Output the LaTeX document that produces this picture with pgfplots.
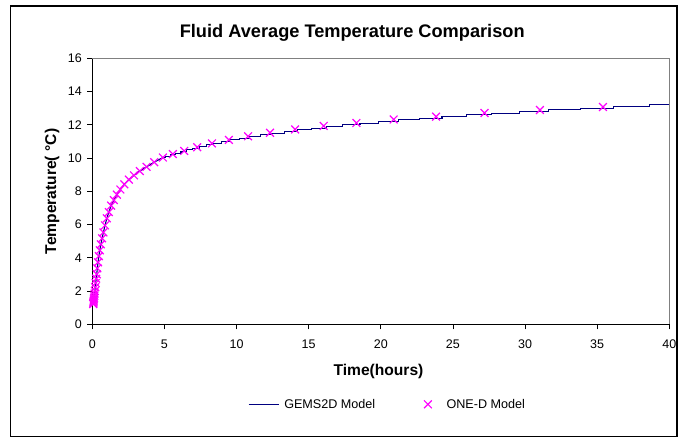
\documentclass[border=0pt]{standalone}
\usepackage{fontspec}
\setmainfont{Liberation Sans}
\usepackage{pgfplots}
\pgfplotsset{compat=1.18}
\definecolor{navyline}{RGB}{0,0,128}
\definecolor{mag}{RGB}{255,0,255}
\pgfplotsset{
  gemsimg/.style={legend image code/.code={\draw[##1] (0bp,0bp) -- (30bp,0bp);}},
  onedimg/.style={legend image code/.code={\draw[##1] plot coordinates {(6bp,0bp)}; \path (0bp,0bp) (19bp,0bp);}},
}
\begin{document}
\begin{tikzpicture}[x=1bp,y=1bp]
\begin{axis}[
  scale only axis, width=577bp, height=266bp,
  xmin=0,xmax=40,ymin=0,ymax=16,
  xtick={0,5,...,40}, ytick={0,2,...,16},
  axis x line*=bottom, axis y line*=left,
  axis line style={-, black, line width=0.9bp},
  tick align=outside, major tick length=5bp,
  tick style={black, line width=0.8bp},
  clip=false,
  /pgf/number format/assume math mode=true,
  tick label style={font=\fontsize{12.5bp}{14bp}\selectfont},
  xticklabel style={anchor=north, yshift=-7bp},
  yticklabel style={anchor=east, xshift=-2bp},
  title={Fluid Average Temperature Comparison},
  every axis title/.style={at={(axis description cs:0.4505,1.0789)}, anchor=base, font=\fontsize{18.2bp}{20bp}\selectfont\bfseries},
  xlabel={Time(hours)},
  xlabel style={at={(axis description cs:0.496,-0.1756)}, anchor=center, font=\fontsize{15.6bp}{17bp}\selectfont\bfseries},
  ylabel={Temperature( °C)},
  ylabel style={at={(axis description cs:-0.0698,0.499)}, anchor=center, font=\fontsize{15.6bp}{17bp}\selectfont\bfseries},
  legend columns=2,
  legend style={at={(axis description cs:0.2698,-0.3008)}, anchor=west, draw=none, fill=none, inner sep=0pt,
    font=\fontsize{12.6bp}{14bp}\selectfont, nodes={inner xsep=0pt, inner ysep=1bp},
    /tikz/every even column/.append style={column sep=46bp},
    /tikz/every odd column/.append style={column sep=5bp}},
  legend cell align=left,
]
\addplot[navyline, line width=1.1bp, forget plot] coordinates {
(0.063,1.22)(0.072,1.28)(0.082,1.35)(0.094,1.42)(0.107,1.50)(0.122,1.60)(0.139,1.72)(0.159,1.85)(0.181,2.00)(0.207,2.23)(0.236,2.48)(0.269,2.74)(0.307,3.01)(0.350,3.37)(0.399,3.73)(0.456,4.10)(0.520,4.45)(0.593,4.81)(0.677,5.17)(0.772,5.53)(0.881,5.95)(1.006,6.37)(1.147,6.75)(1.309,7.14)(1.494,7.47)(1.704,7.80)(1.945,8.11)(2.219,8.42)(2.532,8.70)(2.888,8.96)(3.296,9.22)(3.760,9.47)(4.291,9.75)(4.896,10.03)
};
\addplot[navyline, line width=1.1bp, const plot, gemsimg] coordinates {
(4.896,10.03)(5.10,10.1)(5.43,10.2)(5.78,10.3)(6.15,10.4)(6.55,10.5)(6.97,10.6)(7.42,10.7)(7.90,10.8)(8.41,10.9)(8.95,11.0)(9.53,11.1)(10.19,11.2)(10.89,11.3)(11.64,11.4)(12.44,11.5)(13.30,11.6)(14.22,11.7)(15.20,11.8)(16.25,11.9)(17.37,12.0)(18.56,12.1)(19.84,12.2)(21.21,12.3)(22.67,12.4)(24.24,12.5)(25.91,12.6)(27.69,12.7)(29.60,12.8)(31.64,12.9)(33.83,13.0)(36.16,13.1)(38.65,13.2)(40,13.2)
};
\addlegendentry{GEMS2D Model}
\addplot[only marks, mark=x, mark size=5.5bp, mag, line width=1.2bp, onedimg] coordinates {
(0.063,1.22)(0.072,1.28)(0.082,1.35)(0.094,1.42)(0.107,1.50)(0.122,1.60)(0.139,1.72)(0.159,1.85)(0.181,2.00)(0.207,2.23)(0.236,2.48)(0.269,2.74)(0.307,3.01)(0.350,3.37)(0.399,3.73)(0.456,4.10)(0.520,4.45)(0.593,4.81)(0.677,5.17)(0.772,5.53)(0.881,5.95)(1.006,6.37)(1.147,6.75)(1.309,7.14)(1.494,7.47)(1.704,7.80)(1.945,8.11)(2.219,8.42)(2.532,8.70)(2.888,8.96)(3.296,9.22)(3.760,9.47)(4.291,9.75)(4.896,10.03)(5.586,10.24)(6.373,10.43)(7.272,10.65)(8.297,10.88)(9.467,11.09)(10.80,11.31)(12.32,11.52)(14.06,11.72)(16.04,11.93)(18.31,12.11)(20.89,12.32)(23.83,12.49)(27.19,12.71)(31.03,12.89)(35.40,13.07)
};
\addlegendentry{ONE-D Model}
\draw[gray, line width=0.7bp] (rel axis cs:0,1) -- (rel axis cs:1,1) -- (rel axis cs:1,0);
\coordinate (O) at (rel axis cs:0,0);
\end{axis}
\pgfresetboundingbox
\path[use as bounding box] ([shift={(-92.3,-113.7)}]O) rectangle ([shift={(587.7,324.3)}]O);
\draw[line width=1.5bp] ([shift={(-81.8,-112.2)}]O) rectangle ([shift={(584.7,318.3)}]O);
\end{tikzpicture}
\end{document}
